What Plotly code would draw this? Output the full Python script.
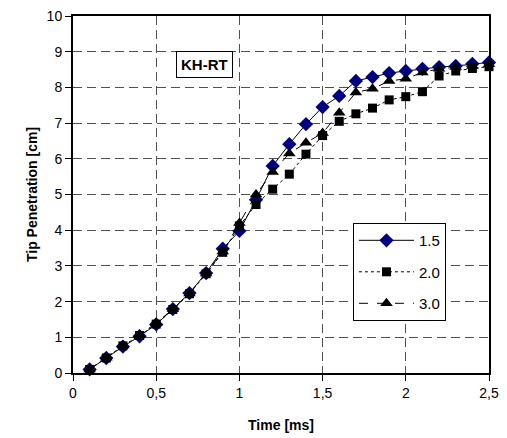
import plotly.graph_objects as go

# Tip penetration vs time, three cases
time_ms = [0.1, 0.2, 0.3, 0.4, 0.5, 0.6, 0.7, 0.8, 0.9, 1.0,
           1.1, 1.2, 1.3, 1.4, 1.5, 1.6, 1.7, 1.8, 1.9, 2.0,
           2.1, 2.2, 2.3, 2.4, 2.5]
tip_15 = [0.10, 0.42, 0.74, 1.03, 1.36, 1.79, 2.24, 2.80, 3.48, 3.98,
          4.85, 5.80, 6.41, 6.97, 7.45, 7.76, 8.18, 8.29, 8.40, 8.46,
          8.52, 8.57, 8.60, 8.66, 8.70]
tip_20 = [0.10, 0.42, 0.76, 1.05, 1.37, 1.78, 2.22, 2.78, 3.38, 4.12,
          4.72, 5.15, 5.57, 6.13, 6.65, 7.05, 7.26, 7.42, 7.65, 7.74,
          7.88, 8.32, 8.46, 8.53, 8.58]
tip_30 = [0.10, 0.43, 0.77, 1.07, 1.40, 1.79, 2.23, 2.79, 3.40, 4.20,
          5.00, 5.63, 6.15, 6.45, 6.72, 7.29, 7.86, 7.96, 8.18, 8.24,
          8.42, 8.52, 8.57, 8.60, 8.65]
series_names = ['1.5', '2.0', '3.0']

fig = go.Figure()
fig.add_trace(go.Scatter(x=time_ms, y=tip_15, name=series_names[0], mode='lines+markers',
                         legendgroup='a', cliponaxis=False,
                         line=dict(color='black', width=1),
                         marker=dict(symbol='diamond', size=11, color='#000080')))
fig.add_trace(go.Scatter(x=time_ms, y=tip_20, name=series_names[1], mode='lines+markers',
                         legendgroup='b', cliponaxis=False,
                         line=dict(color='black', width=1, dash='dot'),
                         marker=dict(symbol='square', size=9, color='black')))
fig.add_trace(go.Scatter(x=time_ms, y=tip_30, name=series_names[2], mode='lines+markers',
                         legendgroup='c', cliponaxis=False,
                         line=dict(color='black', width=1, dash='dash'),
                         marker=dict(symbol='triangle-up', size=11, color='black')))

fig.add_annotation(x=0.79, y=8.64, text='<b>KH-RT</b>', showarrow=False,
                   font=dict(size=15, color='black'),
                   bordercolor='black', borderwidth=1, borderpad=4, bgcolor='white')

axis_common = dict(
    showline=True, linecolor='black', linewidth=2, mirror=True,
    ticks='outside', ticklen=6, tickcolor='black', tickwidth=1,
    showgrid=True, gridcolor='#505050', gridwidth=1, griddash='9px,5px',
    zeroline=False, tickfont=dict(size=14, color='black'),
    automargin=False, ticklabeloverflow='allow',
)

# the page body adds an 8px offset, so the figure is sized to sit inside the window
fig.update_layout(
    width=499, height=430,
    margin=dict(l=65, r=18, t=8, b=65),
    paper_bgcolor='white', plot_bgcolor='white',
    font=dict(family='Liberation Sans, Arial, sans-serif', color='black'),
    separators=',.',
    xaxis=dict(
        range=[0, 2.5], dtick=0.5, tick0=0,
        title=dict(text='<b>Time [ms]</b>', font=dict(size=14), standoff=20),
        **axis_common
    ),
    yaxis=dict(
        range=[0, 10], dtick=1, tick0=0,
        title=dict(text='<b>Tip Penetration [cm]</b>', font=dict(size=14), standoff=6),
        **axis_common
    ),
    legend=dict(
        x=0.673, y=0.42, xanchor='left', yanchor='top',
        bordercolor='black', borderwidth=1, bgcolor='white',
        font=dict(size=15, color='black'),
        itemwidth=55, tracegroupgap=9, traceorder='grouped',
    ),
)

fig.write_html("out.html")
